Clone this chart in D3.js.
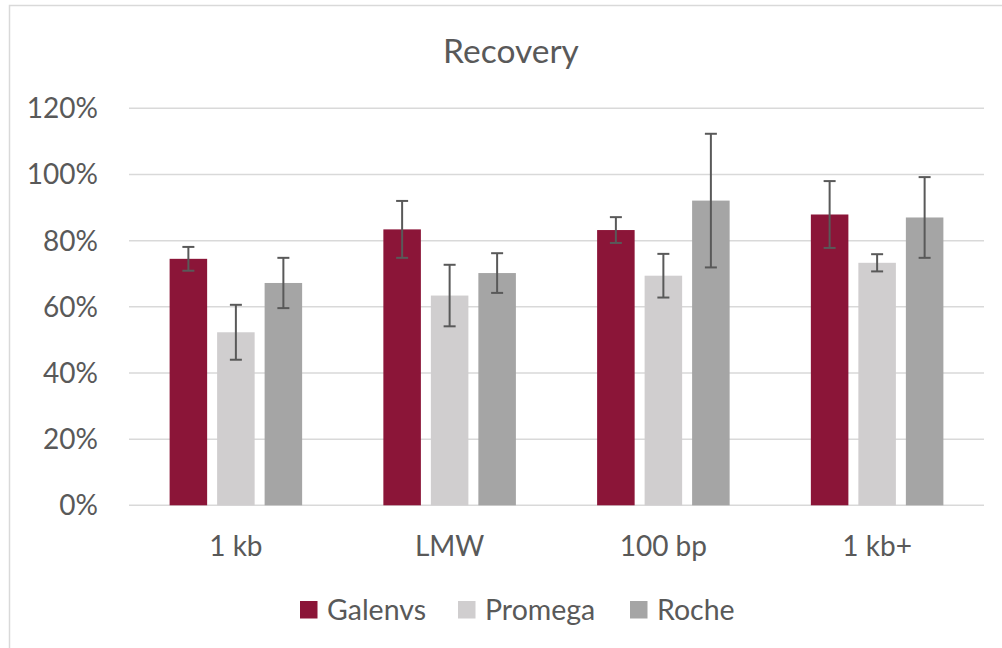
<!DOCTYPE html>
<html>
<head>
<meta charset="utf-8">
<script src="https://cdn.jsdelivr.net/npm/d3@7"></script>
<style>
  html, body { margin: 0; padding: 0; background: #fff; }
  svg { display: block; font-family: Lato, "Open Sans", sans-serif; }
</style>
</head>
<body>
<svg id="chart" width="1002" height="648"></svg>
<script>
const categories = ["1 kb", "LMW", "100 bp", "1 kb+"];
const seriesNames = ["Galenvs", "Promega", "Roche"];
const galenvs = [74.5, 83.4, 83.2, 87.9];
const galenvsErr = [3.6, 8.6, 3.9, 10.1];
const promega = [52.3, 63.4, 69.4, 73.3];
const promegaErr = [8.3, 9.3, 6.6, 2.6];
const roche = [67.2, 70.2, 92.1, 87.0];
const rocheErr = [7.6, 6.0, 20.2, 12.2];
const yTicks = [0, 20, 40, 60, 80, 100, 120];
const colors = ["#8B1538", "#D0CECF", "#A5A5A5"];

(function () {
const values = [galenvs, promega, roche];
const errs = [galenvsErr, promegaErr, rocheErr];

const svg = d3.select("#chart");
const plotLeft = 129, plotRight = 984, plotTop = 108.3, plotBottom = 505.3;

// chart border
svg.append("rect").attr("x", 9.5).attr("y", 5.5).attr("width", 1010).attr("height", 660)
  .attr("fill", "none").attr("stroke", "#D9D9D9").attr("stroke-width", 1.5);

const y = d3.scaleLinear().domain([0, 120]).range([plotBottom, plotTop]);
const x0 = d3.scaleBand().domain(categories).range([plotLeft, plotRight]).padding(0);
const x1 = d3.scaleBand().domain(seriesNames).range([0, x0.bandwidth()])
  .paddingInner(0.21).paddingOuter(0.855);

// gridlines
svg.append("g").selectAll("line").data(yTicks).join("line")
  .attr("x1", plotLeft).attr("x2", plotRight)
  .attr("y1", d => y(d)).attr("y2", d => y(d))
  .attr("stroke", "#D9D9D9").attr("stroke-width", 1.5);

// y labels
svg.append("g").selectAll("text").data(yTicks).join("text")
  .attr("x", 98).attr("y", d => y(d) + 10)
  .attr("text-anchor", "end").attr("fill", "#595959")
  .attr("font-size", 28).text(d => d + "%");

// bars
const groups = svg.append("g").selectAll("g").data(categories).join("g")
  .attr("transform", d => `translate(${x0(d)},0)`);

seriesNames.forEach((s, si) => {
  groups.append("rect")
    .attr("x", x1(s)).attr("width", x1.bandwidth())
    .attr("y", (d, i) => y(values[si][i]))
    .attr("height", (d, i) => y(0) - y(values[si][i]))
    .attr("fill", colors[si]);
});

// error bars
seriesNames.forEach((s, si) => {
  const cx = x1(s) + x1.bandwidth() / 2;
  groups.each(function (d, i) {
    const g = d3.select(this);
    const v = values[si][i], e = errs[si][i];
    g.append("line").attr("x1", cx).attr("x2", cx)
      .attr("y1", y(v + e)).attr("y2", y(v - e))
      .attr("stroke", "#595959").attr("stroke-width", 2);
    [v + e, v - e].forEach(val => {
      g.append("line").attr("x1", cx - 6).attr("x2", cx + 6)
        .attr("y1", y(val)).attr("y2", y(val))
        .attr("stroke", "#595959").attr("stroke-width", 2);
    });
  });
});

// category labels
svg.append("g").selectAll("text").data(categories).join("text")
  .attr("x", d => x0(d) + x0.bandwidth() / 2).attr("y", 556)
  .attr("text-anchor", "middle").attr("fill", "#595959")
  .attr("font-size", 28).text(d => d);

// title
svg.append("text").attr("x", 511).attr("y", 62.7)
  .attr("text-anchor", "middle").attr("fill", "#595959")
  .attr("font-size", 33.5).text("Recovery");

// legend
const legendX = [300, 458, 630];
const legend = svg.append("g").selectAll("g").data(seriesNames).join("g")
  .attr("transform", (d, i) => `translate(${legendX[i]},601)`);
legend.append("rect").attr("width", 17.5).attr("height", 17.5)
  .attr("fill", (d, i) => colors[i]);
legend.append("text").attr("x", 27).attr("y", 18.5)
  .attr("fill", "#595959").attr("font-size", 28.5).text(d => d);
})();
</script>
</body>
</html>
